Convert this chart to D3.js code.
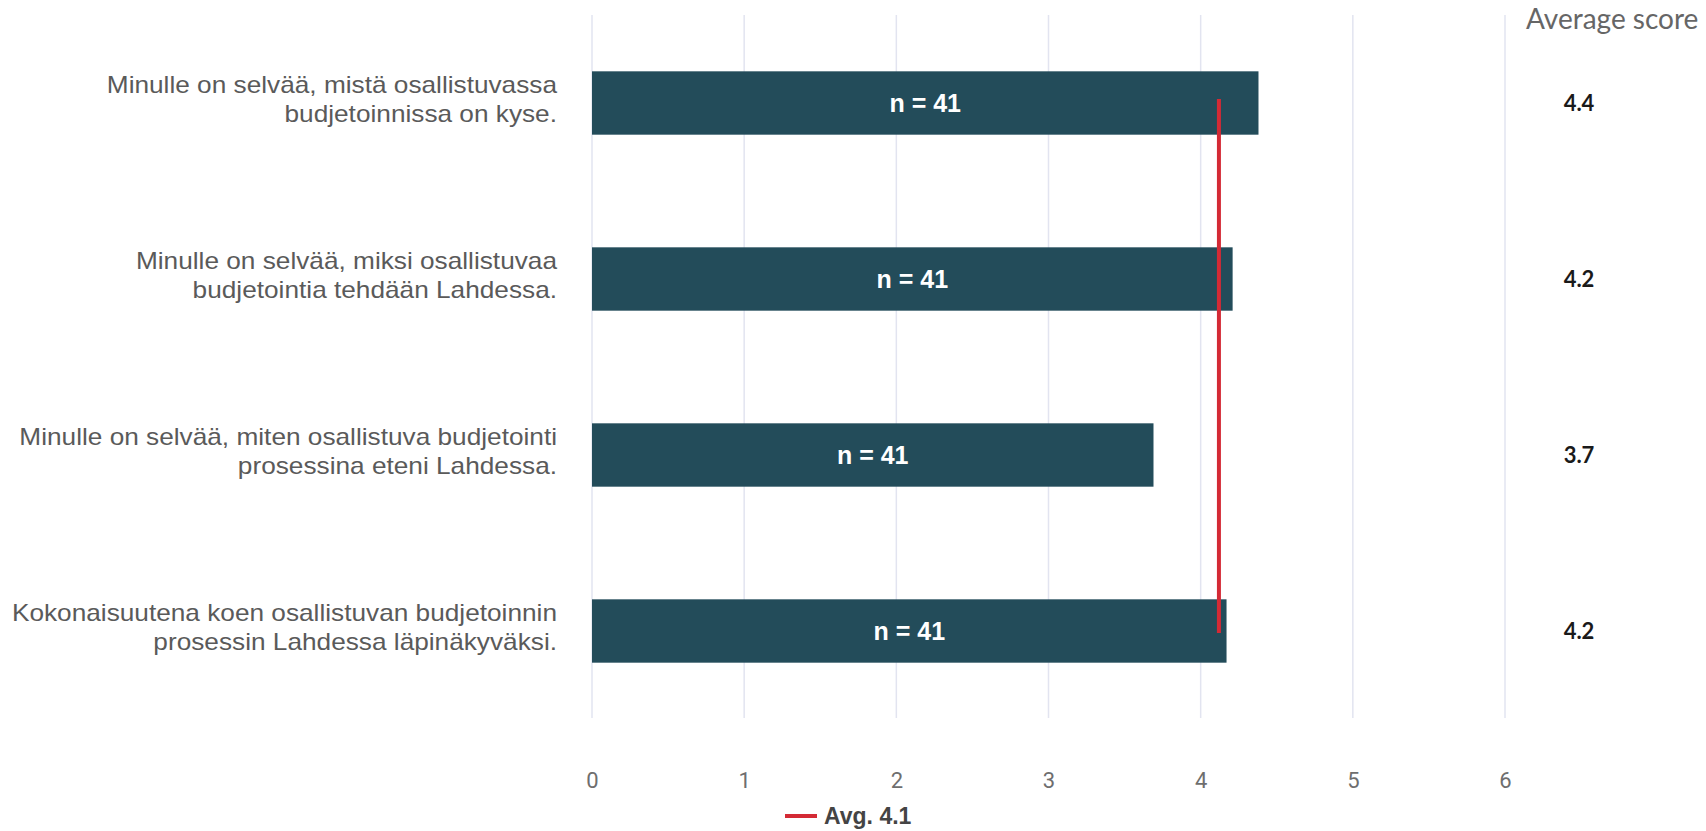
<!DOCTYPE html>
<html>
<head>
<meta charset="utf-8">
<script src="https://cdn.jsdelivr.net/npm/d3@7"></script>
<style>
  html, body { margin: 0; padding: 0; background: #ffffff; }
  svg { display: block; }
</style>
</head>
<body>
<svg id="chart" width="1706" height="831"></svg>
<script>
// ---- data ----
const categoryLines = [
  ["Minulle on selvää, mistä osallistuvassa", "budjetoinnissa on kyse."],
  ["Minulle on selvää, miksi osallistuvaa", "budjetointia tehdään Lahdessa."],
  ["Minulle on selvää, miten osallistuva budjetointi", "prosessina eteni Lahdessa."],
  ["Kokonaisuutena koen osallistuvan budjetoinnin", "prosessin Lahdessa läpinäkyväksi."]
];
const categoryIds = ["q1", "q2", "q3", "q4"];
const scores = [4.38, 4.21, 3.69, 4.17];
const scoreLabels = ["4.4", "4.2", "3.7", "4.2"];
const respondents = [41, 41, 41, 41];
const avgValue = 4.12;
const avgLabel = "Avg. 4.1";
const xTicks = [0, 1, 2, 3, 4, 5, 6];
const columnTitle = "Average score";

// ---- layout ----
const svg = d3.select("#chart");
const x = d3.scaleLinear().domain([0, 6]).range([592, 1505]);
const y = d3.scaleBand().domain(categoryIds).range([15, 719]).paddingInner(0.64).paddingOuter(0.32);

const barColor = "#234c5a";
const avgColor = "#d42a35";

// gridlines
svg.append("g")
  .selectAll("line")
  .data(xTicks)
  .join("line")
  .attr("x1", d => x(d)).attr("x2", d => x(d))
  .attr("y1", 15).attr("y2", 718)
  .attr("stroke", "#e2e4f0").attr("stroke-width", 1.5);

// x axis
const xAxis = d3.axisBottom(x).tickValues(xTicks).tickSize(0).tickPadding(0).tickFormat(d3.format("d"));
const gx = svg.append("g").attr("transform", "translate(0,772)").call(xAxis);
gx.select(".domain").remove();
gx.selectAll("text")
  .attr("font-family", "Roboto, 'Liberation Sans', sans-serif")
  .attr("font-size", 22)
  .attr("fill", "#6e6e6e");

// bars
svg.append("g")
  .selectAll("rect")
  .data(categoryIds)
  .join("rect")
  .attr("x", x(0))
  .attr("y", d => y(d))
  .attr("width", (d, i) => x(scores[i]) - x(0))
  .attr("height", y.bandwidth())
  .attr("fill", barColor);

// n labels
svg.append("g")
  .selectAll("text")
  .data(categoryIds)
  .join("text")
  .attr("x", (d, i) => (x(0) + x(scores[i])) / 2)
  .attr("y", d => y(d) + y.bandwidth() / 2)
  .attr("dy", "0.36em")
  .attr("text-anchor", "middle")
  .attr("font-family", "'Liberation Sans', Arial, sans-serif")
  .attr("font-weight", "bold")
  .attr("font-size", 25)
  .attr("fill", "#ffffff")
  .text((d, i) => "n = " + respondents[i]);

// average line
svg.append("line")
  .attr("x1", x(avgValue)).attr("x2", x(avgValue))
  .attr("y1", y(categoryIds[0]) + y.bandwidth() / 2 - 4)
  .attr("y2", y(categoryIds[categoryIds.length - 1]) + y.bandwidth() / 2 + 2)
  .attr("stroke", avgColor).attr("stroke-width", 4);

// category labels (slightly widened to match the source rendering)
const lab = svg.append("g")
  .selectAll("text")
  .data(categoryIds)
  .join("text")
  .attr("transform", d => `translate(557,${y(d) + y.bandwidth() / 2 - 3}) scale(1.14,1)`)
  .attr("text-anchor", "end")
  .attr("font-family", "'Liberation Sans', Arial, sans-serif")
  .attr("font-size", 23)
  .attr("fill", "#5a5a5a");
lab.each(function(d, i) {
  const t = d3.select(this);
  categoryLines[i].forEach((line, k) => {
    t.append("tspan")
      .attr("x", 0)
      .attr("dy", k === 0 ? "-0.3em" : "1.25em")
      .text(line);
  });
});

// column title
svg.append("text")
  .attr("x", 1526).attr("y", 29)
  .attr("font-family", "Lato, 'Open Sans', sans-serif")
  .attr("font-size", 28)
  .attr("fill", "#666666")
  .text(columnTitle);

// scores column
svg.append("g")
  .selectAll("text")
  .data(categoryIds)
  .join("text")
  .attr("x", 1579)
  .attr("y", d => y(d) + y.bandwidth() / 2)
  .attr("dy", "0.36em")
  .attr("text-anchor", "middle")
  .attr("font-family", "Lato, 'Open Sans', sans-serif")
  .attr("font-weight", "bold")
  .attr("font-size", 22)
  .attr("fill", "#1a1a1a")
  .text((d, i) => scoreLabels[i]);

// legend
const lg = svg.append("g").attr("transform", "translate(785,816)");
lg.append("line").attr("x1", 0).attr("x2", 32).attr("y1", 0).attr("y2", 0)
  .attr("stroke", avgColor).attr("stroke-width", 4);
lg.append("text").attr("x", 39).attr("y", 0).attr("dy", "0.36em")
  .attr("font-family", "'Liberation Sans', Arial, sans-serif")
  .attr("font-weight", "bold").attr("font-size", 23)
  .attr("fill", "#444444")
  .text(avgLabel);
</script>
</body>
</html>
